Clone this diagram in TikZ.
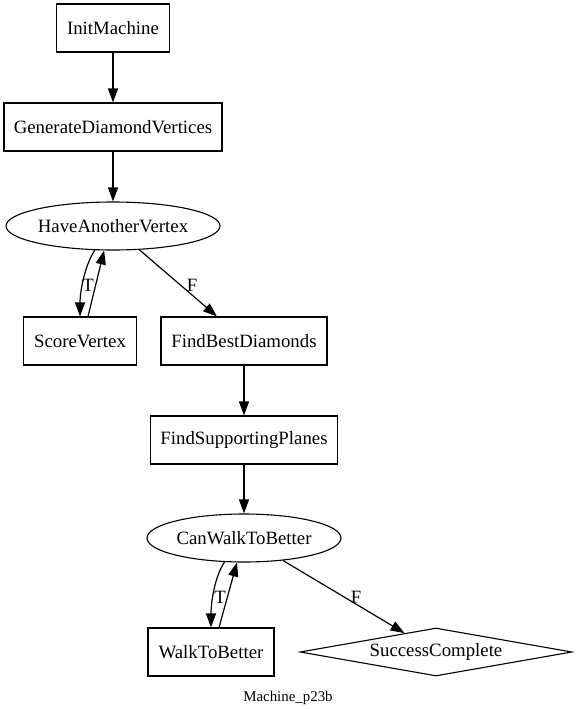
\documentclass[tikz,border=0pt]{standalone}
\usepackage{fontspec}
\setmainfont{Liberation Serif}
\usetikzlibrary{arrows.meta,shapes.geometric}
\begin{document}
\begin{tikzpicture}[x=1pt,y=-1pt,
  every node/.style={font=\fontsize{18.8}{22}\selectfont, inner sep=0pt},
  box/.style={draw, rectangle, minimum height=48pt, line width=1.1pt},
  oval/.style={draw, ellipse, minimum height=48pt, line width=1.1pt},
  dia/.style={draw, diamond, aspect=5.67, line width=1.1pt},
  arr/.style={-{Triangle[length=14pt,width=10pt]}, line width=1.2pt},
  elab/.style={}]
\useasboundingbox (0,0) rectangle (577,709);
\node[box, minimum width=113pt] (init) at (113,28) {InitMachine};
\node[box, minimum width=218pt] (gdv) at (113,127) {GenerateDiamondVertices};
\node[oval, minimum width=214pt] (hav) at (113,226) {HaveAnotherVertex};
\node[box, minimum width=113pt] (sv) at (80,341) {ScoreVertex};
\node[box, minimum width=166pt] (fbd) at (244,341) {FindBestDiamonds};
\node[box, minimum width=187pt] (fsp) at (244,440) {FindSupportingPlanes};
\node[oval, minimum width=194pt] (cw) at (244,538) {CanWalkToBetter};
\node[box, minimum width=126pt] (wtb) at (211,652) {WalkToBetter};
\node[dia, minimum width=272pt, minimum height=48pt] (sc) at (436,652) {SuccessComplete};
\node[font=\fontsize{14.9}{17}\selectfont] (title) at (288,698) {Machine\_p23b};

\draw[arr] (init) -- (gdv);
\draw[arr] (gdv) -- (hav);
\draw[arr] (hav.-127) .. controls +(-10,15) and +(0,-25) .. (sv.north);
\draw[arr] ([xshift=8pt]sv.north) -- (hav.-110);
\draw[arr] (hav.-42) -- ([xshift=-27pt]fbd.north);
\draw[arr] (fbd) -- (fsp);
\draw[arr] (fsp) -- (cw);
\draw[arr] (cw.-129) .. controls +(-10,15) and +(0,-25) .. (wtb.north);
\draw[arr] ([xshift=8pt]wtb.north) -- (cw.-106);
\draw[arr] (cw.-30) -- (sc.149);

\node[elab] (t1) at (88,285) {T};
\node[elab] (f1) at (192,285) {F};
\node[elab] (t2) at (220,597) {T};
\node[elab] (f2) at (356,597) {F};
\end{tikzpicture}
\end{document}
